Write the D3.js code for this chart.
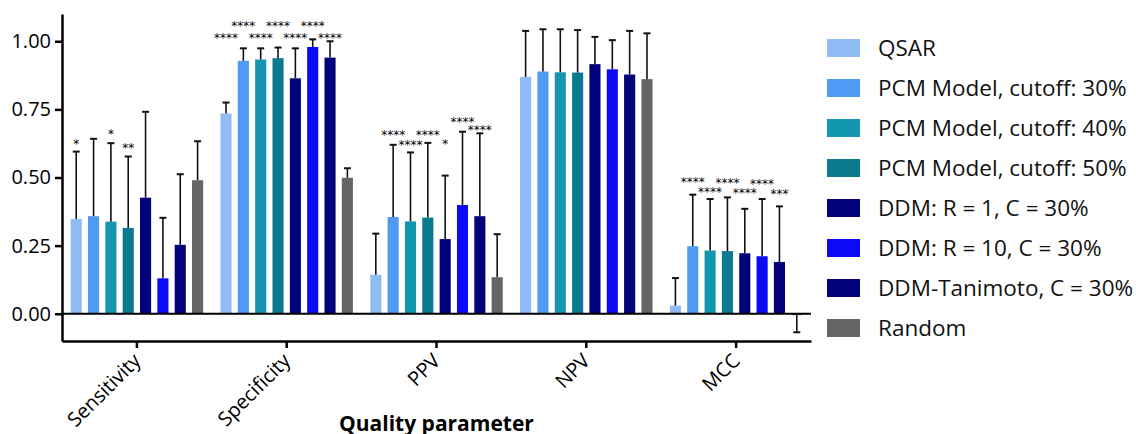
<!DOCTYPE html>
<html>
<head>
<meta charset="utf-8">
<script src="https://cdn.jsdelivr.net/npm/d3@7"></script>
<style>
  body { margin: 0; background: #fff; }
  svg { display: block; font-family: "Open Sans", sans-serif; }
</style>
</head>
<body>
<div id="chart"></div>
<script>
// Categories (x axis) and series (bars)
const categories = ["Sensitivity", "Specificity", "PPV", "NPV", "MCC"];
const series = [
  "QSAR",
  "PCM Model, cutoff: 30%",
  "PCM Model, cutoff: 40%",
  "PCM Model, cutoff: 50%",
  "DDM: R = 1, C = 30%",
  "DDM: R = 10, C = 30%",
  "DDM-Tanimoto, C = 30%",
  "Random"
];
const colors = ["#8fbcf5", "#4f9bf3", "#1596b0", "#0b7a8e", "#02027a", "#0a0af7", "#02027a", "#656565"];

// mean values, one per category
const qsar     = [0.348, 0.735, 0.143, 0.869, 0.030];
const pcm30    = [0.358, 0.928, 0.355, 0.889, 0.248];
const pcm40    = [0.338, 0.933, 0.339, 0.886, 0.232];
const pcm50    = [0.315, 0.938, 0.353, 0.885, 0.230];
const ddm1     = [0.426, 0.864, 0.274, 0.916, 0.222];
const ddm10    = [0.130, 0.979, 0.399, 0.897, 0.211];
const tanimoto = [0.253, 0.940, 0.358, 0.878, 0.190];
const random   = [0.490, 0.499, 0.134, 0.861, -0.005];

// standard deviations (error bars)
const qsarSd     = [0.247, 0.040, 0.151, 0.169, 0.101];
const pcm30Sd    = [0.284, 0.046, 0.265, 0.155, 0.189];
const pcm40Sd    = [0.288, 0.041, 0.253, 0.158, 0.189];
const pcm50Sd    = [0.262, 0.039, 0.274, 0.156, 0.197];
const ddm1Sd     = [0.315, 0.110, 0.233, 0.100, 0.163];
const ddm10Sd    = [0.222, 0.028, 0.269, 0.107, 0.210];
const tanimotoSd = [0.259, 0.060, 0.304, 0.160, 0.204];
const randomSd   = [0.143, 0.035, 0.158, 0.168, 0.063];

const values = [qsar, pcm30, pcm40, pcm50, ddm1, ddm10, tanimoto, random];
const sds = [qsarSd, pcm30Sd, pcm40Sd, pcm50Sd, ddm1Sd, ddm10Sd, tanimotoSd, randomSd];

// significance stars: category, series index, label, height (data units)
const stars = [
  ["Sensitivity", 0, "*", 0.632], ["Sensitivity", 2, "*", 0.666], ["Sensitivity", 3, "**", 0.616],
  ["Specificity", 0, "****", 1.019], ["Specificity", 1, "****", 1.063], ["Specificity", 2, "****", 1.019],
  ["Specificity", 3, "****", 1.063], ["Specificity", 4, "****", 1.019], ["Specificity", 5, "****", 1.063],
  ["Specificity", 6, "****", 1.019],
  ["PPV", 1, "****", 0.662], ["PPV", 2, "****", 0.626], ["PPV", 3, "****", 0.662],
  ["PPV", 4, "*", 0.629], ["PPV", 5, "****", 0.711], ["PPV", 6, "****", 0.681],
  ["MCC", 1, "****", 0.490], ["MCC", 2, "****", 0.453], ["MCC", 3, "****", 0.487],
  ["MCC", 4, "****", 0.450], ["MCC", 5, "****", 0.485], ["MCC", 6, "***", 0.448]
];

const yTicks = [0, 0.25, 0.5, 0.75, 1];

// flat table for drawing
const bars = [];
categories.forEach((c, ci) => {
  series.forEach((s, si) => {
    bars.push({cat: c, s: s, si: si, v: values[si][ci], sd: sds[si][ci]});
  });
});

const W = 1136, H = 434;
const mLeft = 62, mRight = 811, mTop = 14, mBottom = 341;

const svg = d3.select("#chart").append("svg")
  .attr("width", W)
  .attr("height", H);

const x = d3.scaleBand().domain(categories).range([mLeft, mRight]);
const x1 = d3.scaleBand().domain(series).range([0, x.bandwidth()])
  .paddingInner(0.36).paddingOuter(0.5);
const y = d3.scaleLinear().domain([-0.1, 1.1]).range([mBottom, mTop]);

// bars
svg.append("g")
  .selectAll("rect")
  .data(bars)
  .join("rect")
  .attr("x", d => x(d.cat) + x1(d.s))
  .attr("width", x1.bandwidth())
  .attr("y", d => y(Math.max(0, d.v)))
  .attr("height", d => Math.abs(y(d.v) - y(0)))
  .attr("fill", d => colors[d.si]);

// error bars (drawn away from zero)
const err = svg.append("g")
  .attr("stroke", "#111")
  .attr("stroke-width", 1.6)
  .selectAll("g")
  .data(bars)
  .join("g");
const cx = d => x(d.cat) + x1(d.s) + x1.bandwidth() / 2;
const tip = d => d.v >= 0 ? d.v + d.sd : d.v - d.sd;
err.append("line")
  .attr("x1", cx).attr("x2", cx)
  .attr("y1", d => y(d.v)).attr("y2", d => y(tip(d)));
err.append("line")
  .attr("x1", d => cx(d) - 3.5).attr("x2", d => cx(d) + 3.5)
  .attr("y1", d => y(tip(d))).attr("y2", d => y(tip(d)))
  .attr("stroke-width", 2);

// stars
svg.append("g")
  .selectAll("text")
  .data(stars)
  .join("text")
  .attr("x", d => x(d[0]) + x1(series[d[1]]) + x1.bandwidth() / 2)
  .attr("y", d => y(d[3]) + 6)
  .attr("text-anchor", "middle")
  .style("font-family", "DejaVu Sans")
  .style("font-size", "12px")
  .attr("fill", "#000")
  .text(d => d[2]);

// zero line
svg.append("line")
  .attr("x1", mLeft).attr("x2", mRight)
  .attr("y1", y(0)).attr("y2", y(0))
  .attr("stroke", "#000")
  .attr("stroke-width", 2);

// y axis
const yAxis = svg.append("g")
  .attr("transform", `translate(${mLeft},0)`)
  .call(d3.axisLeft(y).tickValues(yTicks).tickFormat(d3.format(".2f")).tickSize(7).tickSizeOuter(0))
  .attr("font-family", null)
  .attr("font-size", null);
yAxis.select(".domain").attr("stroke-width", 2.5);
yAxis.selectAll(".tick line").attr("stroke-width", 2.5);
yAxis.selectAll(".tick text")
  .style("font-size", "20px")
  .attr("fill", "#000")
  .attr("x", -11);

// x axis
const xAxis = svg.append("g")
  .attr("transform", `translate(0,${mBottom})`)
  .call(d3.axisBottom(x).tickSize(7).tickSizeOuter(0))
  .attr("font-family", null)
  .attr("font-size", null);
xAxis.select(".domain").attr("stroke-width", 2.5);
xAxis.selectAll(".tick line").attr("stroke-width", 2.5);
xAxis.selectAll(".tick text")
  .style("font-size", "20px")
  .attr("fill", "#000")
  .attr("text-anchor", "end")
  .attr("dy", null)
  .attr("y", null)
  .attr("transform", "translate(5,21) rotate(-45)");

// x axis title
svg.append("text")
  .attr("x", (mLeft + mRight) / 2)
  .attr("y", 431)
  .attr("text-anchor", "middle")
  .style("font-size", "21px")
  .style("font-weight", "bold")
  .text("Quality parameter");

// legend
const legend = svg.append("g")
  .selectAll("g")
  .data(series)
  .join("g")
  .attr("transform", (d, i) => `translate(827,${48 + i * 40})`);
legend.append("rect")
  .attr("x", 0).attr("y", -9)
  .attr("width", 33).attr("height", 18)
  .attr("fill", (d, i) => colors[i]);
legend.append("text")
  .attr("x", 51).attr("y", 0)
  .attr("dy", "0.36em")
  .style("font-size", "22.5px")
  .attr("fill", "#111")
  .text(d => d);
</script>
</body>
</html>
